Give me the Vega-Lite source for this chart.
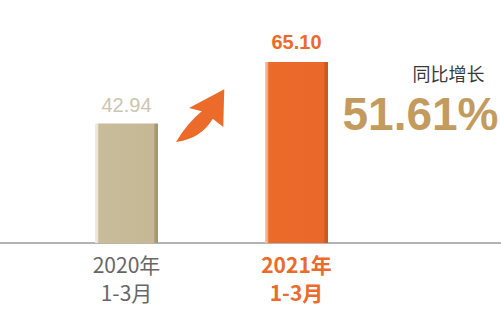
{
  "$schema": "https://vega.github.io/schema/vega-lite/v6.json",
  "width": 501,
  "height": 309,
  "autosize": {"type": "none"},
  "padding": 0,
  "background": "white",
  "config": {"view": {"stroke": null}},
  "data": {
    "values": [
      {"period": "2020年1-3月", "label": ["2020年", "1-3月"], "value": 42.94},
      {"period": "2021年1-3月", "label": ["2021年", "1-3月"], "value": 65.10}
    ]
  },
  "encoding": {
    "x": {
      "field": "period",
      "type": "nominal",
      "axis": null,
      "scale": {"domain": ["2020年1-3月", "2021年1-3月"], "range": [41.5, 381.5], "paddingInner": 0, "paddingOuter": 0}
    }
  },
  "layer": [
    {
      "data": {"values": [{}]},
      "mark": {"type": "rule", "color": "#b4b4b4", "strokeWidth": 2},
      "encoding": {
        "x": null,
        "y": {"datum": 0, "type": "quantitative", "scale": {"domain": [0, 65.1], "range": [243, 62], "nice": false, "zero": false}, "axis": null}
      }
    },
    {
      "transform": [{"filter": "datum.period == '2020年1-3月'"}],
      "mark": {
        "type": "bar", "width": 63,
        "color": {"gradient": "linear", "x1": 0, "x2": 1, "y1": 0, "y2": 0,
          "stops": [
            {"offset": 0, "color": "#f1ece0"},
            {"offset": 0.045, "color": "#ebe4d2"},
            {"offset": 0.06, "color": "#c9bc9a"},
            {"offset": 0.93, "color": "#c6b895"},
            {"offset": 0.95, "color": "#a99b73"},
            {"offset": 1, "color": "#a39470"}
          ]}
      },
      "encoding": {
        "y": {"field": "value", "type": "quantitative", "axis": null}
      }
    },
    {
      "transform": [{"filter": "datum.period == '2021年1-3月'"}],
      "mark": {
        "type": "bar", "width": 63,
        "color": {"gradient": "linear", "x1": 0, "x2": 1, "y1": 0, "y2": 0,
          "stops": [
            {"offset": 0, "color": "#f8cfb0"},
            {"offset": 0.045, "color": "#f3a272"},
            {"offset": 0.06, "color": "#ec6b2b"},
            {"offset": 0.93, "color": "#e9682a"},
            {"offset": 0.95, "color": "#cd5c22"},
            {"offset": 1, "color": "#c9581f"}
          ]}
      },
      "encoding": {
        "y": {"field": "value", "type": "quantitative", "axis": null}
      }
    },
    {
      "transform": [{"filter": "datum.period == '2020年1-3月'"}],
      "mark": {"type": "text", "font": "Liberation Sans", "fontSize": 20, "color": "#cdc5b0", "baseline": "middle", "dy": -18},
      "encoding": {
        "y": {"field": "value", "type": "quantitative", "axis": null},
        "text": {"field": "value", "type": "quantitative", "format": ".2f"}
      }
    },
    {
      "transform": [{"filter": "datum.period == '2021年1-3月'"}],
      "mark": {"type": "text", "font": "Liberation Sans", "fontSize": 20, "fontWeight": "bold", "color": "#ec6a2a", "baseline": "middle", "dy": -19},
      "encoding": {
        "y": {"field": "value", "type": "quantitative", "axis": null},
        "text": {"field": "value", "type": "quantitative", "format": ".2f"}
      }
    },
    {
      "transform": [{"filter": "datum.period == '2020年1-3月'"}],
      "mark": {"type": "text", "font": "Noto Sans CJK SC", "fontSize": 21, "color": "#666666", "baseline": "top", "dy": 13, "lineHeight": 28},
      "encoding": {
        "y": {"datum": 0, "type": "quantitative", "axis": null},
        "text": {"field": "label"}
      }
    },
    {
      "transform": [{"filter": "datum.period == '2021年1-3月'"}],
      "mark": {"type": "text", "font": "Noto Sans CJK SC", "fontSize": 21, "fontWeight": "bold", "color": "#ec6a2a", "baseline": "top", "dy": 13, "lineHeight": 28},
      "encoding": {
        "y": {"datum": 0, "type": "quantitative", "axis": null},
        "text": {"field": "label"}
      }
    },
    {
      "data": {"values": [{"note": "arrow"}]},
      "mark": {
        "type": "point", "filled": true, "size": 2500, "opacity": 1, "color": "#ec6a2a", "strokeWidth": 0,
        "shape": "M -1.42 1.08 Q -0.95 0.3 -0.39 -0.15 L -0.9 -0.28 L 0.51 -1.03 L 0.47 0.48 L 0.05 0.15 Q -0.415 0.945 -1.42 1.08 Z"
      },
      "encoding": {
        "x": {"datum": "2020年1-3月", "bandPosition": 1},
        "y": {"datum": 46.04, "type": "quantitative", "axis": null}
      }
    },
    {
      "data": {"values": [{"note": "同比增长"}]},
      "mark": {"type": "text", "font": "Noto Sans CJK SC", "fontSize": 18, "color": "#3a3a3a", "baseline": "middle", "dx": 152},
      "encoding": {
        "x": {"datum": "2021年1-3月"},
        "y": {"datum": 60.0, "type": "quantitative", "axis": null},
        "text": {"field": "note"}
      }
    },
    {
      "data": {"values": [{"note": "51.61%"}]},
      "mark": {"type": "text", "font": "Liberation Sans", "fontSize": 46, "fontWeight": "bold", "color": "#c49b5f", "baseline": "middle", "dx": 124},
      "encoding": {
        "x": {"datum": "2021年1-3月"},
        "y": {"datum": 45.7, "type": "quantitative", "axis": null},
        "text": {"field": "note"}
      }
    }
  ]
}
